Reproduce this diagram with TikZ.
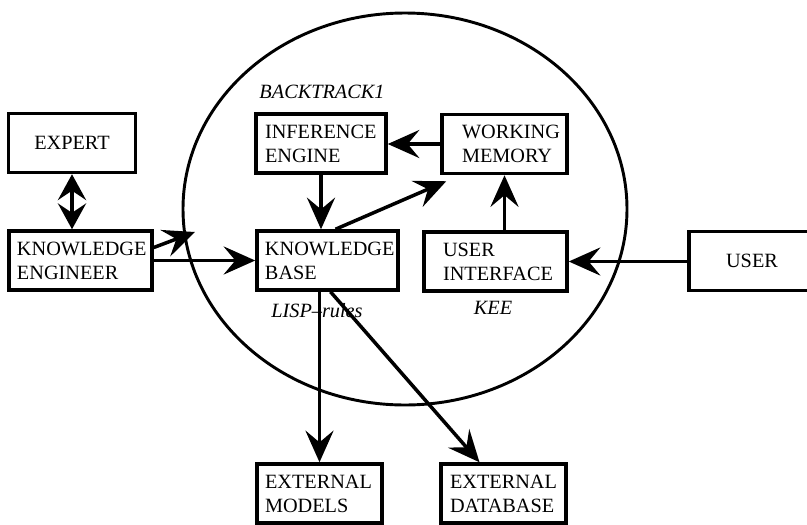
\documentclass[tikz,border=0pt]{standalone}
\usepackage{fontspec}
\setmainfont{Liberation Serif}
\usetikzlibrary{arrows.meta,calc}
\newcommand\boxfont{\fontsize{17.3pt}{20.5pt}\selectfont}
\tikzset{
  unit/.style={draw, line width=3pt, minimum height=1.77cm, inner sep=0pt, align=left, font=\boxfont},
  conn/.style={line width=3pt, -{Stealth[length=27pt,width=24pt,inset=10pt]}},
  tag/.style={inner sep=0pt, font=\boxfont\itshape},
}
\begin{document}
\begin{tikzpicture}[x=0.03cm, y=-0.03cm]
\useasboundingbox (0,0) rectangle (807,524);
% system boundary
\draw[line width=2.5pt] (405,209) ellipse [x radius=222, y radius=196];
\node[tag] (backtrack) at (322,92) {BACKTRACK1};
\node[tag] (lisp) at (317,311) {LISP--rules};
\node[tag] (kee) at (493,308) {KEE};

\node[unit, minimum width=3.81cm, align=center] (expert) at (72,143) {EXPERT};
\node[unit, minimum width=4.29cm, text width=3.81cm] (engineer) at (80.5,260.5) {KNOWLEDGE\\ENGINEER};
\node[unit, minimum width=3.9cm, text width=3.36cm] (inference) at (321,143.5) {INFERENCE\\ENGINE};
\node[unit, minimum width=3.75cm, text width=2.55cm] (memory) at (504.5,144) {WORKING\\MEMORY};
\node[unit, minimum width=4.23cm, text width=3.75cm] (kbase) at (327.5,260.5) {KNOWLEDGE\\BASE};
\node[unit, minimum width=4.29cm, text width=3.15cm] (uinterface) at (495.5,261.5) {USER\\INTERFACE};
\node[unit, minimum width=3.78cm, align=center] (user) at (752,261) {USER};
\node[unit, minimum width=3.75cm, text width=3.27cm] (extmodels) at (319.5,493.5) {EXTERNAL\\MODELS};
\node[unit, minimum width=3.75cm, text width=3.21cm] (extdb) at (503.5,493.5) {EXTERNAL\\DATABASE};

\coordinate (entry) at (195,232);

\draw[conn, {Stealth[length=22pt,width=24pt,inset=8pt]}-{Stealth[length=22pt,width=24pt,inset=8pt]}] (expert.south) -- (expert.south |- engineer.north);
\draw[conn] ($(engineer.east)+(0,-13)$) -- (entry);
\draw[conn] (engineer.east) -- (engineer.east -| kbase.west);
\draw[conn] (memory.west) -- (memory.west -| inference.east);
\draw[conn] (inference.south) -- (inference.south |- kbase.north);
\draw[conn] ($(kbase.north)+(8,0)$) -- ($(memory.south west)+(6,6)$);
\draw[conn] (memory.south |- uinterface.north) -- (memory.south);
\draw[conn] (user.west |- uinterface.east) -- (uinterface.east);
\draw[conn] (extmodels.north |- kbase.south) -- (extmodels.north);
\draw[conn] ($(kbase.south)+(3,0)$) -- ($(extdb.north)+(-24,0)$);

\end{tikzpicture}
\end{document}
